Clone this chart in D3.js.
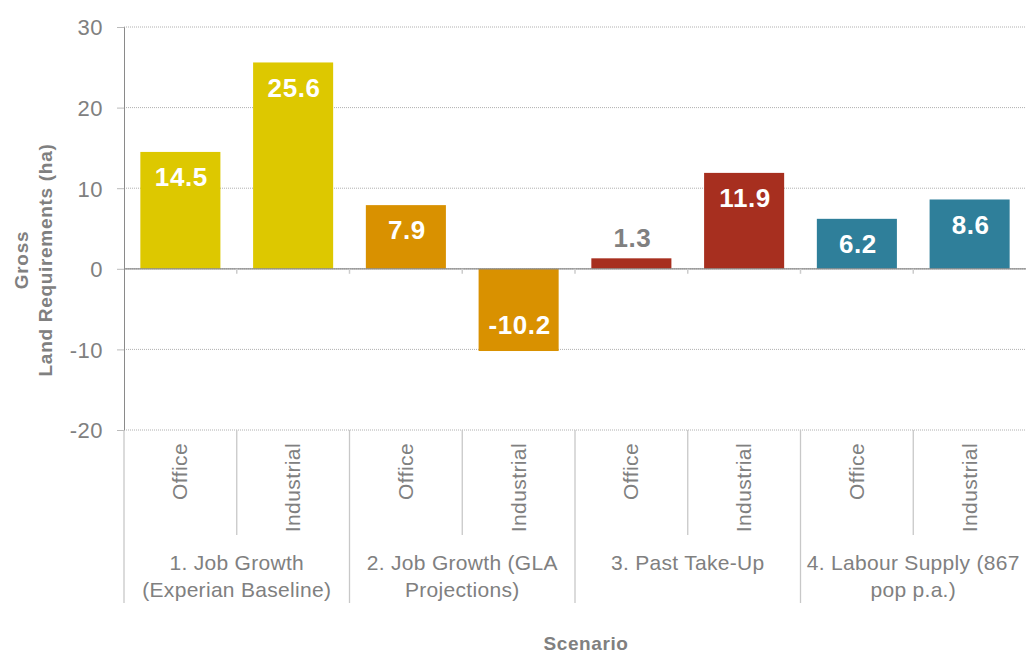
<!DOCTYPE html>
<html><head><meta charset="utf-8">
<script src="https://cdn.jsdelivr.net/npm/d3@7"></script>
<style>body{margin:0;background:#fff;} text{font-family:"Liberation Sans",Arial,sans-serif;}</style>
</head><body>
<svg id="c" width="1026" height="653"></svg>
<script>
const categories = ["Office","Industrial","Office","Industrial","Office","Industrial","Office","Industrial"];
const groups = [["1. Job Growth","(Experian Baseline)"],["2. Job Growth (GLA","Projections)"],["3. Past Take-Up"],["4. Labour Supply (867","pop p.a.)"]];
const values = [14.5, 25.6, 7.9, -10.2, 1.3, 11.9, 6.2, 8.6];
const groupColors = ["#DDC800","#D99100","#A72F1F","#2F7F9A"];
const yTicks = [-20,-10,0,10,20,30];

const svg = d3.select("#c");
const L = 124, R = 1026, T = 27, B = 430;
const x = d3.scaleBand().domain(d3.range(categories.length)).range([L, R]).paddingInner(0.29).paddingOuter(0.145);
const y = d3.scaleLinear().domain([-20, 30]).range([B, T]);
const gray = "#808080";

// gridlines
svg.append("g").selectAll("line").data(yTicks).join("line")
  .attr("x1", L).attr("x2", R).attr("y1", d => y(d)).attr("y2", d => y(d))
  .attr("stroke", "#b0b0b0").attr("stroke-width", 1).attr("stroke-dasharray", "1,1");

// y axis
const yAxis = d3.axisLeft(y).tickValues(yTicks).tickSize(7).tickPadding(14).tickFormat(d => String(d));
const ga = svg.append("g").attr("transform", `translate(${L},0)`).call(yAxis);
ga.select(".domain").attr("stroke", "#8a8a8a");
ga.selectAll(".tick line").attr("stroke", "#bbb");
ga.selectAll(".tick text").attr("fill", gray).attr("font-size", 22).attr("dy", "0.36em")
  .attr("letter-spacing", 0.5).attr("font-family", "'Liberation Sans',Arial,sans-serif");

// bars
const step = x.step();
svg.append("g").selectAll("rect").data(values).join("rect")
  .attr("x", (d, i) => x(i)).attr("width", x.bandwidth())
  .attr("y", d => y(Math.max(0, d))).attr("height", d => Math.abs(y(d) - y(0)))
  .attr("fill", (d, i) => groupColors[Math.floor(i / 2)]);

// zero line
svg.append("line").attr("x1", L).attr("x2", R).attr("y1", y(0)).attr("y2", y(0)).attr("stroke", "#8a8a8a").attr("stroke-width", 1.2);
// small ticks on zero line at boundaries
svg.append("g").selectAll("line").data(d3.range(1, categories.length)).join("line")
  .attr("x1", i => L + i * step).attr("x2", i => L + i * step)
  .attr("y1", y(0)).attr("y2", y(0) + 5).attr("stroke", "#ccc").attr("stroke-width", 1.5);

// data labels
svg.append("g").selectAll("text").data(values).join("text")
  .attr("x", (d, i) => x(i) + x.bandwidth() / 2 + 1)
  .attr("y", d => {
    const h = Math.abs(y(d) - y(0));
    if (h < 35) return y(d) - 21;
    return d >= 0 ? y(d) + 25 : y(d) - 26;
  })
  .attr("dy", "0.36em")
  .attr("text-anchor", "middle").attr("font-weight", "bold").attr("font-size", 26).attr("letter-spacing", 0.6)
  .attr("fill", d => Math.abs(y(d) - y(0)) < 35 ? gray : "#fff")
  .text(d => d.toFixed(1));

// category separators below axis
svg.append("g").selectAll("line").data(d3.range(0, categories.length)).join("line")
  .attr("x1", i => L + i * step).attr("x2", i => L + i * step)
  .attr("y1", B).attr("y2", i => (i % 2 === 0) ? 603 : 535)
  .attr("stroke", "#c8c8c8").attr("stroke-width", 1.3);

// category labels
svg.append("g").selectAll("text").data(categories).join("text")
  .attr("transform", (d, i) => `translate(${x(i) + x.bandwidth() / 2 + 7},443) rotate(-90)`)
  .attr("text-anchor", "end").attr("font-size", 21).attr("letter-spacing", 0.4).attr("fill", gray)
  .text(d => d);

// group labels
const gg = svg.append("g").selectAll("text").data(groups).join("text")
  .attr("text-anchor", "middle").attr("font-size", 21).attr("letter-spacing", 0.3).attr("fill", gray)
  .attr("x", (d, i) => L + step * (2 * i + 1)).attr("y", 570);
gg.selectAll("tspan").data(d => d).join("tspan")
  .attr("x", function () { return d3.select(this.parentNode).attr("x"); })
  .attr("dy", (d, j) => j === 0 ? 0 : 27).text(d => d);

// axis titles
svg.append("text").attr("x", 586).attr("y", 650).attr("text-anchor", "middle")
  .attr("font-size", 19).attr("letter-spacing", 0.6).attr("font-weight", "bold").attr("fill", gray).text("Scenario");
const yt = svg.append("text").attr("transform", "translate(28,260) rotate(-90)")
  .attr("text-anchor", "middle").attr("font-size", 19).attr("letter-spacing", 0.7).attr("font-weight", "bold").attr("fill", gray);
yt.append("tspan").attr("x", 0).attr("dy", 0).text("Gross");
yt.append("tspan").attr("x", 0).attr("dy", 24).text("Land Requirements (ha)");
</script>
</body></html>
